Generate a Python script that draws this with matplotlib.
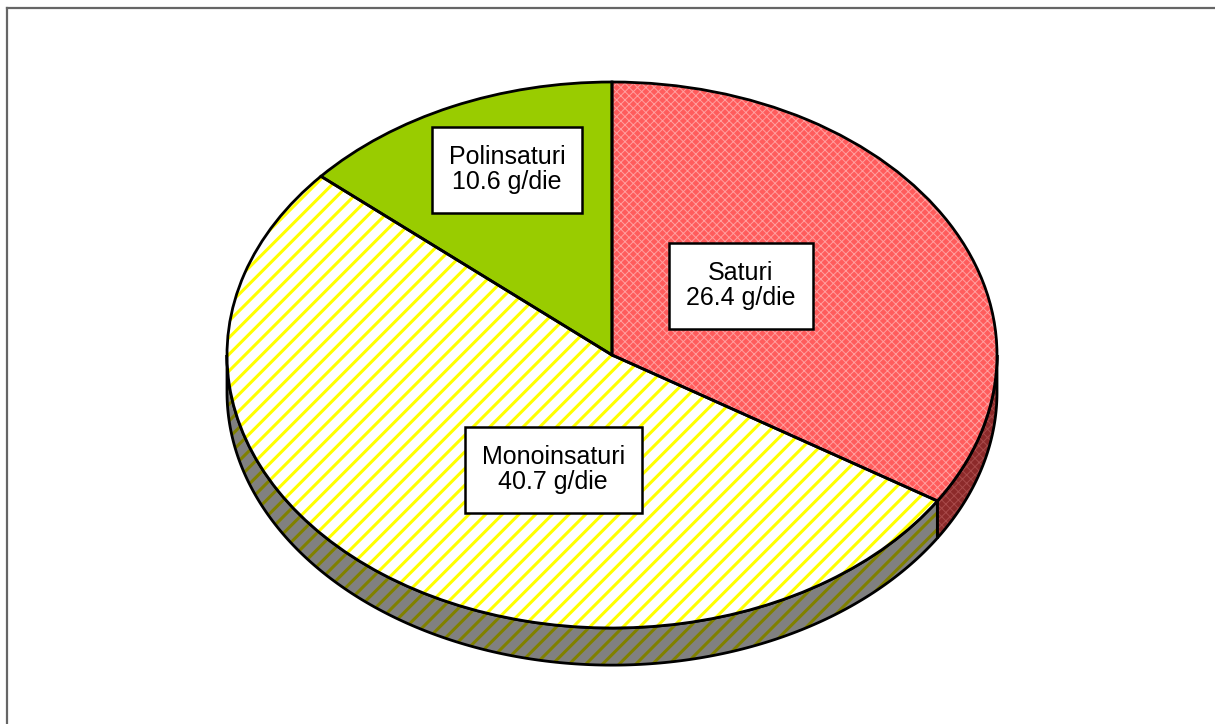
import numpy as np
import matplotlib
matplotlib.use("Agg")
import matplotlib.pyplot as plt
from matplotlib.patches import Polygon, Rectangle
from matplotlib.lines import Line2D

plt.rcParams['font.family'] = ['Liberation Sans', 'DejaVu Sans']
plt.rcParams['hatch.linewidth'] = 2.2

# daily fat intake split by type (g/die)
names = ['Saturi', 'Monoinsaturi', 'Polinsaturi']
grams = [26.4, 40.7, 10.6]

top_colors = ['#ff5c5c', '#ffffff', '#99cc00']
top_hatch = ['xxxx', '//', None]
top_hatch_colors = ['#ffa0a0', '#ffff00', '#99cc00']
side_colors = ['#8c2a2a', '#808080', '#6b8a00']
side_hatch = ['xxxx', '//', None]
side_hatch_colors = ['#a84a4a', '#808000', '#6b8a00']

# label box centres (pie units, ellipse-scaled)
label_pos = [(0.335, 0.253), (-0.153, -0.418), (-0.273, 0.678)]

depth = 0.136   # height of the pie wall
pad_x, pad_y = 17, 19   # label box padding in pixels

fig = plt.figure(figsize=(12.15, 7.24), dpi=100)
ax = fig.add_axes([0, 0, 1, 1])

# filled top face
wedges, _ = ax.pie(grams, startangle=90, counterclock=False, radius=1,
                   colors=top_colors, wedgeprops={'linewidth': 0})
for w, h, hc in zip(wedges, top_hatch, top_hatch_colors):
    w.set_edgecolor(hc)
    if h:
        w.set_hatch(h)
        if hasattr(w, 'set_hatch_linewidth'):
            w.set_hatch_linewidth(0.7 if h == 'xxxx' else 2.2)
    w.set_zorder(3)

# outlines of the top face
outl, _ = ax.pie(grams, startangle=90, counterclock=False, radius=1,
                 wedgeprops={'fill': False, 'edgecolor': 'black', 'linewidth': 2})
for w in outl:
    w.set_zorder(4)

# visible wall: lower half of the ellipse, per slice
total = sum(grams)
start = 90.0
for i, g in enumerate(grams):
    end = start - 360.0 * g / total
    lo, hi = max(end, -180.0), min(start, 0.0)
    # wrap slices that sit entirely past -180
    if hi <= lo:
        lo, hi = max(end + 360, -180.0), min(start + 360, 0.0)
    if hi > lo:
        t = np.radians(np.linspace(lo, hi, 200))
        xs = np.cos(t)
        ys = np.sin(t)
        pts = np.column_stack([np.r_[xs, xs[::-1]], np.r_[ys, ys[::-1] - depth]])
        face = Polygon(pts, closed=True, facecolor=side_colors[i],
                       edgecolor=side_hatch_colors[i], linewidth=0,
                       hatch=side_hatch[i], zorder=1)
        if side_hatch[i] and hasattr(face, 'set_hatch_linewidth'):
            face.set_hatch_linewidth(0.7 if side_hatch[i] == 'xxxx' else 2.2)
        ax.add_patch(face)
        ax.add_patch(Polygon(pts, closed=True, fill=False, edgecolor='black',
                             linewidth=2, zorder=2))
    start = end

ax.set_aspect('auto')
ax.set_xlim(-612 / 385, (1215 - 612) / 385)
ax.set_ylim(-(724 - 355) / 273, 355 / 273)
ax.axis('off')

texts = []
for (x, y), n, g in zip(label_pos, names, grams):
    texts.append(ax.text(x, y, '%s\n%.1f g/die' % (n, g), ha='center', va='center',
                         fontsize=18, linespacing=1.05, zorder=7))

# white label boxes sized around the text
renderer = fig.canvas.get_renderer()
inv = ax.transData.inverted()
for t in texts:
    bb = t.get_window_extent(renderer)
    (x0, y0), (x1, y1) = inv.transform([(bb.x0 - pad_x, bb.y0 - pad_y),
                                        (bb.x1 + pad_x, bb.y1 + pad_y - 1)])
    ax.add_patch(Rectangle((x0, y0), x1 - x0, y1 - y0, facecolor='white',
                           edgecolor='black', linewidth=1.8, zorder=6))

# frame lines along the top and left edge
fig.add_artist(Line2D([7 / 1215, 1], [1 - 8 / 724, 1 - 8 / 724],
                      color='#666666', linewidth=1.6, transform=fig.transFigure))
fig.add_artist(Line2D([7 / 1215, 7 / 1215], [0, 1 - 8 / 724],
                      color='#666666', linewidth=1.6, transform=fig.transFigure))

fig.savefig('out.png', dpi=100)
